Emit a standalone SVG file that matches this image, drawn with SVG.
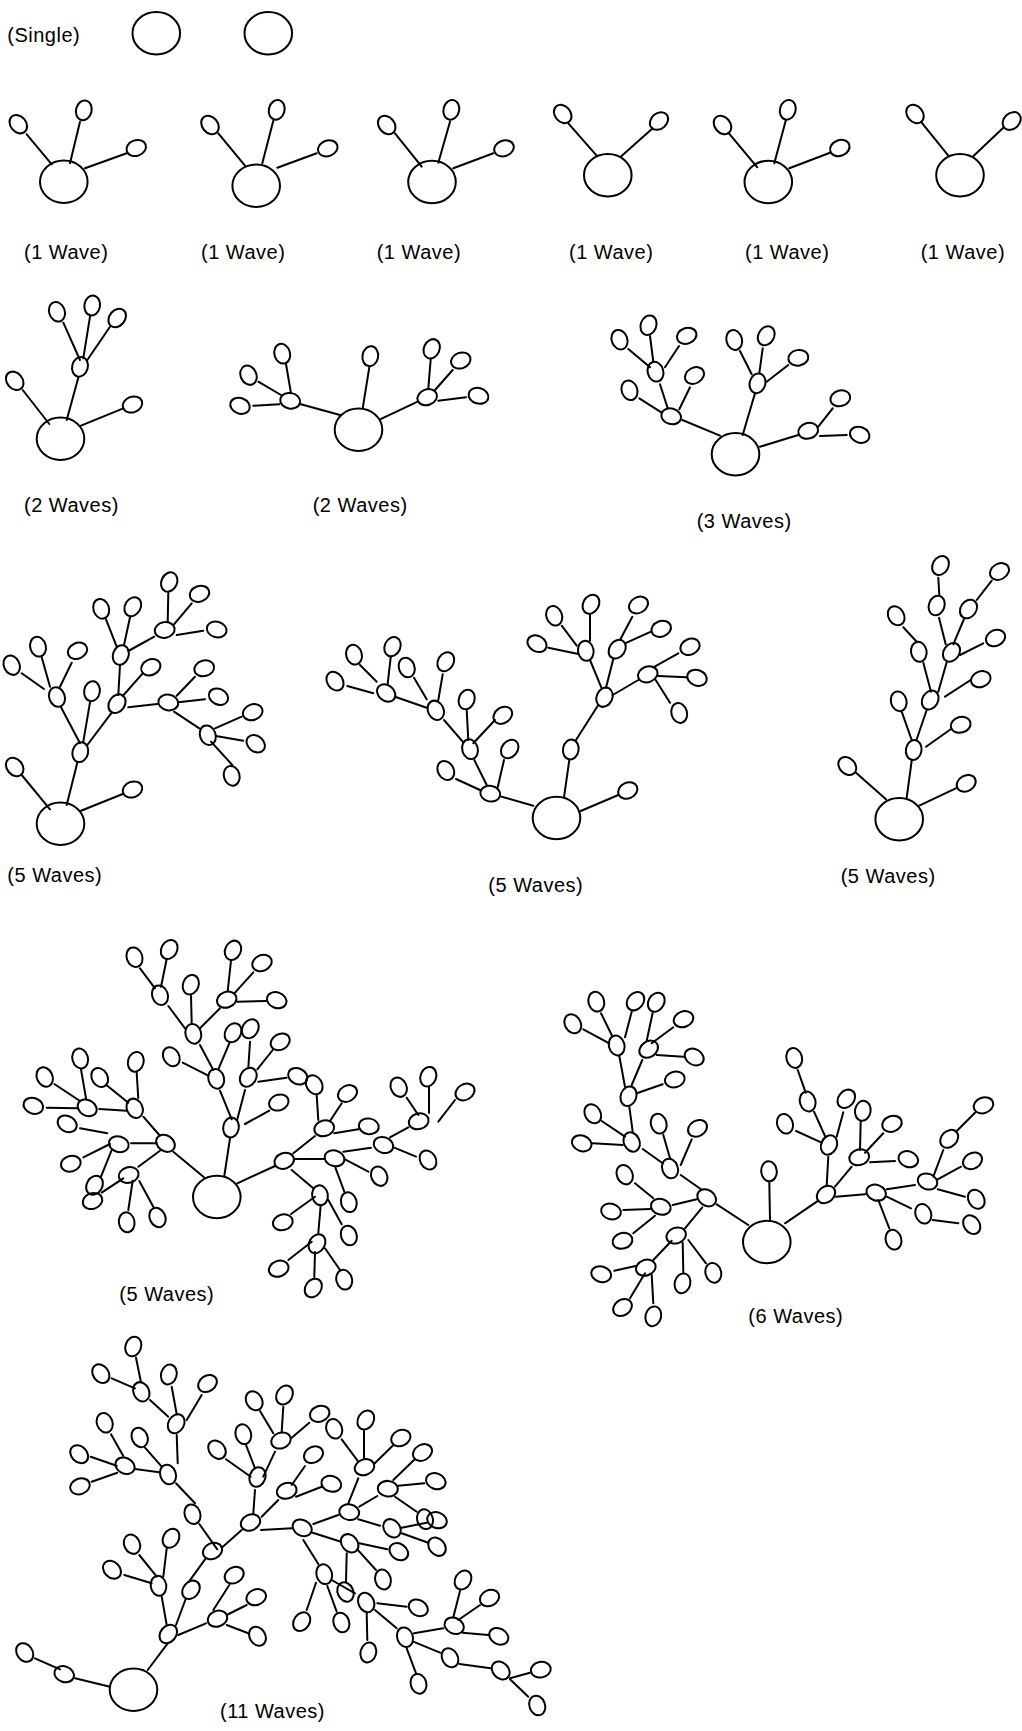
<svg xmlns="http://www.w3.org/2000/svg" xmlns:xlink="http://www.w3.org/1999/xlink" width="1022" height="1731" viewBox="0 0 1022 1731">
<style>
.e{fill:none;stroke:#000;stroke-width:2}
#connectors line{stroke:#000;stroke-width:2;stroke-linecap:round}
text{font-family:"Liberation Sans",Arial,Helvetica,sans-serif;font-size:20px;letter-spacing:0.5px;fill:#000}
</style>
<defs>
<ellipse id="s" class="e" rx="10" ry="7.8"/>
<ellipse id="r" class="e" rx="23.8" ry="21.2"/>
</defs>
<rect width="1022" height="1731" fill="#fff"/>
<g id="connectors">
<line x1="26.7" y1="134.3" x2="51.7" y2="164.3"/><line x1="80" y1="121.7" x2="70" y2="163.3"/><line x1="126.7" y1="153.3" x2="85" y2="168.3"/>
<line x1="218.3" y1="133.3" x2="245" y2="165.7"/><line x1="273.3" y1="120.7" x2="262.3" y2="163.3"/><line x1="316.7" y1="153.3" x2="277.3" y2="167.7"/>
<line x1="395" y1="133.3" x2="421.7" y2="166.7"/><line x1="450" y1="121.7" x2="438.3" y2="162.7"/><line x1="493.3" y1="153.3" x2="453.3" y2="168.3"/>
<line x1="568.3" y1="123.3" x2="596.7" y2="155.7"/><line x1="652.7" y1="128.3" x2="620.7" y2="156.7"/>
<line x1="728.3" y1="132.7" x2="757.3" y2="167.3"/><line x1="785.7" y1="120.7" x2="774.3" y2="163.3"/><line x1="830" y1="152.7" x2="789.3" y2="168.3"/>
<line x1="921.7" y1="122.7" x2="948.3" y2="155.7"/><line x1="1003.3" y1="127.7" x2="972.7" y2="156.7"/>
<line x1="78.3" y1="377.7" x2="66.7" y2="420"/><line x1="22.7" y1="390" x2="49.3" y2="424"/><line x1="123.3" y1="408.3" x2="81" y2="425.7"/>
<line x1="63.3" y1="322.7" x2="80" y2="360"/><line x1="90" y1="316.7" x2="83.3" y2="358.3"/><line x1="110" y1="326.7" x2="87.3" y2="360"/>
<line x1="369.3" y1="367.3" x2="362.7" y2="408.3"/><line x1="300" y1="404" x2="340" y2="415"/><line x1="380" y1="419.3" x2="417.7" y2="401.7"/>
<line x1="286" y1="364" x2="291" y2="393.3"/><line x1="258.3" y1="381.7" x2="281" y2="395"/><line x1="253.3" y1="405.7" x2="279.3" y2="404.3"/>
<line x1="430.7" y1="359.3" x2="428.3" y2="388.3"/><line x1="452.7" y1="370" x2="435" y2="390"/><line x1="466" y1="397.3" x2="438.3" y2="400.7"/>
<line x1="720" y1="435.7" x2="682.3" y2="420"/><line x1="742.7" y1="435" x2="755" y2="393.3"/><line x1="760" y1="446.7" x2="798.3" y2="435"/>
<line x1="667.7" y1="408.3" x2="660" y2="384.3"/><line x1="639.3" y1="398.3" x2="661.7" y2="412.7"/><line x1="679.3" y1="409.3" x2="690" y2="387.3"/>
<line x1="628.3" y1="349" x2="650" y2="367.3"/><line x1="650" y1="336" x2="653.3" y2="361.7"/><line x1="679" y1="346" x2="665" y2="367.3"/>
<line x1="740" y1="351" x2="751.7" y2="374.3"/><line x1="762.7" y1="348.3" x2="759.3" y2="373.3"/><line x1="788.3" y1="365" x2="766.7" y2="381.7"/>
<line x1="832.7" y1="408.3" x2="818.3" y2="426.7"/><line x1="846.7" y1="435" x2="820" y2="436"/>
<line x1="21.7" y1="775" x2="50" y2="809.3"/><line x1="77.3" y1="762.7" x2="66.7" y2="805"/><line x1="122.7" y1="794" x2="81" y2="810.7"/>
<line x1="80" y1="743.3" x2="61" y2="707.3"/><line x1="83.3" y1="741.7" x2="90" y2="702.3"/><line x1="87.3" y1="745" x2="111.7" y2="712.7"/>
<line x1="44" y1="689" x2="21.7" y2="673.3"/><line x1="50" y1="686.7" x2="41.7" y2="657.3"/><line x1="60" y1="686.7" x2="71.7" y2="662.7"/>
<line x1="118.3" y1="695" x2="120" y2="665"/><line x1="122.7" y1="696" x2="142.7" y2="673.3"/><line x1="128.3" y1="707.3" x2="157.3" y2="704"/>
<line x1="106" y1="619.3" x2="116.7" y2="646.7"/><line x1="130" y1="617.3" x2="124" y2="645"/><line x1="128.3" y1="651" x2="154.3" y2="636.7"/>
<line x1="168.3" y1="593.3" x2="167.7" y2="621.7"/><line x1="191.7" y1="603.3" x2="174" y2="624.3"/><line x1="203.3" y1="630.7" x2="176.7" y2="635"/>
<line x1="195" y1="676.7" x2="176.7" y2="695.7"/><line x1="205" y1="699.3" x2="178.3" y2="702.3"/><line x1="174" y1="711.7" x2="199.3" y2="728.3"/>
<line x1="241.7" y1="716.7" x2="215" y2="728.3"/><line x1="243.3" y1="740.7" x2="216" y2="736"/><line x1="232.3" y1="765" x2="211" y2="741.7"/>
<line x1="580.7" y1="811" x2="618.3" y2="795"/><line x1="564" y1="797.3" x2="569.3" y2="760"/><line x1="576" y1="740" x2="598.3" y2="705"/>
<line x1="601.7" y1="688.3" x2="590" y2="660"/><line x1="606" y1="687.7" x2="613.3" y2="659"/><line x1="612.7" y1="695" x2="638.3" y2="680"/>
<line x1="576.7" y1="645.7" x2="561.7" y2="625.7"/><line x1="590" y1="640.7" x2="590" y2="614.3"/><line x1="578.3" y1="654" x2="548.3" y2="647.7"/>
<line x1="620" y1="640" x2="632.3" y2="616.7"/><line x1="625" y1="643.3" x2="651" y2="631.7"/>
<line x1="653.3" y1="667.3" x2="678.3" y2="653.3"/><line x1="658.3" y1="676" x2="686.7" y2="677.3"/><line x1="655.7" y1="680" x2="670" y2="702.7"/>
<line x1="533.3" y1="805.7" x2="501.7" y2="796.7"/><line x1="480" y1="790" x2="456" y2="779"/><line x1="497.7" y1="787.3" x2="504" y2="760"/><line x1="486.7" y1="785" x2="474.3" y2="760"/>
<line x1="468.3" y1="740" x2="466.7" y2="710"/><line x1="473.3" y1="743.3" x2="495" y2="720"/><line x1="462.7" y1="741.7" x2="444" y2="720"/>
<line x1="426.7" y1="699.3" x2="414" y2="677.7"/><line x1="438.3" y1="700" x2="442.7" y2="674.3"/><line x1="426.7" y1="707.7" x2="395" y2="696.7"/>
<line x1="376.7" y1="681.7" x2="360" y2="665"/><line x1="387.7" y1="683.3" x2="390.7" y2="657.3"/><line x1="373.3" y1="693.3" x2="347.3" y2="686"/>
<line x1="856" y1="772.7" x2="886" y2="799.3"/><line x1="911.7" y1="760.7" x2="906.7" y2="797.7"/><line x1="957.3" y1="787.7" x2="919.3" y2="805.7"/>
<line x1="911.7" y1="740" x2="901.7" y2="711.7"/><line x1="950.7" y1="729.3" x2="926" y2="746.7"/><line x1="916.7" y1="739.3" x2="926.7" y2="710"/>
<line x1="970.7" y1="680" x2="945" y2="696.7"/><line x1="931" y1="691.7" x2="923.3" y2="662.7"/><line x1="938.3" y1="691.7" x2="946.7" y2="662.3"/>
<line x1="916.7" y1="641.7" x2="903.3" y2="627.3"/><line x1="945.7" y1="644.3" x2="939" y2="617.7"/><line x1="953.3" y1="644.3" x2="964" y2="619"/><line x1="960" y1="655" x2="983.3" y2="643.3"/>
<line x1="939.3" y1="595" x2="938.3" y2="577.7"/><line x1="976.7" y1="600" x2="991.7" y2="580.7"/>
<line x1="224.3" y1="1176" x2="230" y2="1138.3"/><line x1="245" y1="1124" x2="269.3" y2="1110.7"/><line x1="231.7" y1="1119.3" x2="220" y2="1090.7"/><line x1="237.3" y1="1119.3" x2="245" y2="1090"/>
<line x1="182.7" y1="1062.7" x2="208.3" y2="1075.7"/><line x1="200" y1="1045" x2="213.3" y2="1070"/><line x1="229.3" y1="1043.3" x2="218.3" y2="1069.3"/>
<line x1="250" y1="1041.7" x2="248.3" y2="1068.3"/><line x1="272.7" y1="1050" x2="257.3" y2="1069.3"/><line x1="286.7" y1="1077.7" x2="258.3" y2="1081.7"/>
<line x1="185" y1="1028.3" x2="168.3" y2="1006"/><line x1="191.7" y1="1024" x2="191" y2="996"/><line x1="200" y1="1028.3" x2="220" y2="1008.3"/>
<line x1="140" y1="968.3" x2="155" y2="988.3"/><line x1="166.7" y1="959" x2="161" y2="986.7"/>
<line x1="231" y1="960.7" x2="227.7" y2="991"/><line x1="253.3" y1="972.3" x2="235" y2="992.7"/><line x1="266" y1="1001" x2="237.3" y2="1001.7"/>
<line x1="204" y1="1177.3" x2="173.3" y2="1151.7"/><line x1="159.3" y1="1135" x2="143.3" y2="1116.7"/><line x1="156.7" y1="1143.3" x2="131" y2="1143.3"/><line x1="160" y1="1150.7" x2="138.3" y2="1166.7"/>
<line x1="136.7" y1="1072.7" x2="138.3" y2="1098.3"/><line x1="107.3" y1="1085.7" x2="128.3" y2="1102.7"/><line x1="99.3" y1="1109" x2="126.7" y2="1110.7"/>
<line x1="81" y1="1069.3" x2="86" y2="1098.3"/><line x1="54.3" y1="1084" x2="80" y2="1101"/><line x1="46.7" y1="1107.7" x2="78.3" y2="1108.3"/>
<line x1="80" y1="1128.3" x2="107.3" y2="1133.3"/><line x1="83.3" y1="1157.3" x2="110" y2="1144"/><line x1="101" y1="1176.7" x2="111.7" y2="1150"/>
<line x1="101.7" y1="1192.7" x2="123.3" y2="1178.3"/><line x1="132.7" y1="1180.7" x2="128.3" y2="1210"/><line x1="139.3" y1="1181" x2="153.3" y2="1206.7"/>
<line x1="237.3" y1="1183.3" x2="275" y2="1166"/><line x1="293.3" y1="1153.3" x2="315" y2="1136"/><line x1="295" y1="1159" x2="325" y2="1159"/><line x1="291.7" y1="1170" x2="313.3" y2="1188.3"/>
<line x1="318.3" y1="1120" x2="316.7" y2="1095"/><line x1="330" y1="1121" x2="341.7" y2="1103.3"/><line x1="334.3" y1="1133.3" x2="358.3" y2="1129.3"/>
<line x1="343.3" y1="1151.7" x2="371" y2="1147.7"/><line x1="345" y1="1159.3" x2="368.3" y2="1171.7"/><line x1="335" y1="1166.7" x2="344.3" y2="1191.7"/>
<line x1="390" y1="1137.3" x2="408.3" y2="1127.3"/><line x1="394.3" y1="1147.7" x2="416" y2="1156.7"/>
<line x1="406.7" y1="1097.7" x2="418.3" y2="1115"/><line x1="429" y1="1086.7" x2="429" y2="1113"/><line x1="455" y1="1100" x2="438.3" y2="1121.7"/>
<line x1="291" y1="1214" x2="315" y2="1196.7"/><line x1="328.3" y1="1200" x2="341.7" y2="1224.3"/><line x1="320.7" y1="1205" x2="318.3" y2="1233"/>
<line x1="288.3" y1="1260" x2="311.7" y2="1241.7"/><line x1="315" y1="1252" x2="314.3" y2="1277"/><line x1="325" y1="1248.3" x2="340" y2="1270"/>
<line x1="769.3" y1="1181.7" x2="770" y2="1220"/><line x1="748.3" y1="1225" x2="716.7" y2="1204.3"/>
<line x1="701" y1="1189.3" x2="680.7" y2="1175"/><line x1="696.7" y1="1199.3" x2="672.7" y2="1205"/><line x1="702.3" y1="1207.3" x2="685" y2="1228.3"/>
<line x1="663.3" y1="1135" x2="670" y2="1158.3"/><line x1="691.7" y1="1139.3" x2="680.7" y2="1165"/><line x1="642.7" y1="1149" x2="662.7" y2="1163.3"/>
<line x1="601.7" y1="1121" x2="625" y2="1136.7"/><line x1="592.7" y1="1143.3" x2="622.7" y2="1145"/><line x1="629.3" y1="1106.7" x2="632.7" y2="1131.7"/>
<line x1="636.7" y1="1093.3" x2="662.7" y2="1084.3"/><line x1="619.3" y1="1056" x2="625" y2="1086.7"/><line x1="642.3" y1="1060" x2="631.7" y2="1085"/>
<line x1="583.3" y1="1029.3" x2="609.3" y2="1043.3"/><line x1="601" y1="1013.3" x2="611.7" y2="1035"/><line x1="631.7" y1="1011.7" x2="625" y2="1037.3"/>
<line x1="652.7" y1="1012.7" x2="646.7" y2="1040.7"/><line x1="673.3" y1="1027.3" x2="651.7" y2="1043.3"/><line x1="683.3" y1="1056.7" x2="656.7" y2="1055"/>
<line x1="635" y1="1183.3" x2="653.3" y2="1198.3"/><line x1="623.3" y1="1210" x2="650" y2="1209"/><line x1="633.3" y1="1233.3" x2="655" y2="1215.7"/>
<line x1="671.7" y1="1240.7" x2="653.3" y2="1260"/><line x1="682.7" y1="1242.7" x2="683.3" y2="1272.7"/><line x1="688.3" y1="1240" x2="706" y2="1263.3"/>
<line x1="614.3" y1="1270.7" x2="636.7" y2="1265.7"/><line x1="630" y1="1298.3" x2="645" y2="1273.3"/><line x1="653.3" y1="1303.3" x2="651.7" y2="1275"/>
<line x1="785" y1="1223.3" x2="818.3" y2="1200.7"/><line x1="826.7" y1="1185" x2="828.3" y2="1156.7"/><line x1="835" y1="1186.7" x2="851.7" y2="1166.7"/><line x1="836" y1="1196.7" x2="865" y2="1194.3"/>
<line x1="796" y1="1131" x2="821.7" y2="1142.7"/><line x1="843.3" y1="1112.3" x2="836.7" y2="1136.7"/><line x1="814" y1="1111.7" x2="825" y2="1136"/><line x1="797.7" y1="1070" x2="805.7" y2="1092.7"/>
<line x1="860.7" y1="1121" x2="860" y2="1150"/><line x1="883.3" y1="1133.3" x2="865" y2="1152.7"/><line x1="895" y1="1161" x2="870" y2="1162.3"/>
<line x1="886.7" y1="1189.3" x2="915" y2="1185"/><line x1="886.7" y1="1196.7" x2="911" y2="1208.3"/><line x1="878.3" y1="1200" x2="889.3" y2="1228.3"/><line x1="932.7" y1="1220" x2="958.3" y2="1223.3"/>
<line x1="943.3" y1="1150" x2="933.3" y2="1176.7"/><line x1="961" y1="1166.7" x2="937.7" y2="1179.3"/><line x1="965" y1="1196.7" x2="937.7" y2="1189.3"/><line x1="975" y1="1112.7" x2="956" y2="1131.7"/>
<line x1="75" y1="1678.3" x2="110" y2="1686.7"/><line x1="35" y1="1658.3" x2="60" y2="1669.3"/><line x1="147.7" y1="1670" x2="167.7" y2="1643.3"/>
<line x1="166.7" y1="1625" x2="161.7" y2="1596.7"/><line x1="176" y1="1625" x2="185.7" y2="1599"/><line x1="178.3" y1="1635" x2="206" y2="1623.3"/><line x1="189" y1="1581.7" x2="205" y2="1559.3"/>
<line x1="139.3" y1="1555" x2="156.7" y2="1576.7"/><line x1="166.7" y1="1548.3" x2="163.3" y2="1576.7"/><line x1="124.3" y1="1575" x2="151.7" y2="1583.3"/>
<line x1="213.3" y1="1610" x2="229.3" y2="1585"/><line x1="226.7" y1="1615" x2="246.7" y2="1605"/><line x1="226.7" y1="1625" x2="248.3" y2="1633.3"/>
<line x1="217.3" y1="1549.3" x2="199.3" y2="1524"/><line x1="221.7" y1="1547.7" x2="241.7" y2="1530"/><line x1="195" y1="1503.3" x2="176" y2="1483.3"/>
<line x1="159.3" y1="1472.3" x2="135" y2="1469"/><line x1="145" y1="1447.7" x2="161.7" y2="1466.7"/><line x1="176.7" y1="1435" x2="177.7" y2="1463.3"/>
<line x1="111" y1="1434.3" x2="123.3" y2="1456"/><line x1="90.7" y1="1456.7" x2="116.7" y2="1465.7"/><line x1="91.7" y1="1481.7" x2="117.3" y2="1472.7"/>
<line x1="171.7" y1="1386.7" x2="176.7" y2="1414.3"/><line x1="201.7" y1="1395" x2="186.7" y2="1420"/><line x1="150" y1="1400" x2="168.3" y2="1416.7"/>
<line x1="136" y1="1357.7" x2="141" y2="1382.3"/><line x1="111.7" y1="1378.3" x2="135" y2="1388.3"/>
<line x1="255" y1="1490" x2="253.3" y2="1513.3"/><line x1="261.7" y1="1516.7" x2="278.3" y2="1500"/><line x1="261" y1="1530" x2="291.7" y2="1528.3"/>
<line x1="226" y1="1459.3" x2="250.7" y2="1476.7"/><line x1="246" y1="1445" x2="255" y2="1468.3"/><line x1="275" y1="1451.7" x2="263.3" y2="1476.7"/>
<line x1="260" y1="1411" x2="273.3" y2="1433.3"/><line x1="283.3" y1="1406.7" x2="281.7" y2="1431.7"/><line x1="309.3" y1="1422.7" x2="291.7" y2="1437.7"/>
<line x1="305" y1="1466" x2="291.7" y2="1485"/><line x1="321.7" y1="1486.7" x2="296" y2="1496.7"/>
<line x1="313.3" y1="1524" x2="338.3" y2="1515"/><line x1="312.7" y1="1532.7" x2="341" y2="1541.7"/><line x1="303.3" y1="1540" x2="318.3" y2="1564"/>
<line x1="358.3" y1="1478.3" x2="348.3" y2="1503.3"/><line x1="359.3" y1="1506.7" x2="377.3" y2="1496"/><line x1="358.3" y1="1519.3" x2="380" y2="1525.7"/>
<line x1="341.7" y1="1439.3" x2="358.3" y2="1461.7"/><line x1="364" y1="1431" x2="364" y2="1458.3"/><line x1="392.7" y1="1445.7" x2="374" y2="1464"/>
<line x1="414" y1="1460" x2="393.3" y2="1480"/><line x1="424.3" y1="1483.3" x2="398.3" y2="1485.7"/><line x1="395" y1="1496.7" x2="416.7" y2="1511.7"/>
<line x1="401.7" y1="1527.7" x2="426.7" y2="1522.7"/><line x1="401.7" y1="1533.3" x2="428.3" y2="1542.7"/>
<line x1="359.3" y1="1543.3" x2="387.3" y2="1549.3"/><line x1="357.3" y1="1549.3" x2="376" y2="1570"/><line x1="346.7" y1="1553.3" x2="346" y2="1581.7"/>
<line x1="316" y1="1582.7" x2="306.7" y2="1610"/><line x1="327.3" y1="1586" x2="336.7" y2="1611.7"/><line x1="331.7" y1="1580" x2="355" y2="1593.3"/>
<line x1="377.3" y1="1603.3" x2="406.7" y2="1606.7"/><line x1="366.7" y1="1613.3" x2="367.3" y2="1640"/><line x1="375" y1="1610" x2="396.7" y2="1628.3"/>
<line x1="406.7" y1="1648.3" x2="416" y2="1673.3"/><line x1="414" y1="1633.3" x2="443.3" y2="1628.3"/><line x1="413.3" y1="1641.7" x2="440" y2="1652.7"/>
<line x1="460" y1="1591" x2="453.3" y2="1617.3"/><line x1="480" y1="1605" x2="458.3" y2="1620"/><line x1="488.3" y1="1635" x2="462.7" y2="1632.7"/>
<line x1="459.3" y1="1664" x2="490.7" y2="1668.3"/><line x1="510" y1="1678.3" x2="530" y2="1672.7"/><line x1="510" y1="1679.3" x2="528.3" y2="1696.7"/>
</g>
<g id="single">
<g id="sg-1" transform="translate(156.3 33.3)"><use href="#r"/></g>
<g id="sg-2" transform="translate(268.3 33.3)"><use href="#r"/></g>
</g>
<g id="w1a">
<g id="w1a-root" transform="translate(63.8 181.7)"><use href="#r"/></g>
<g id="w1a-1" transform="translate(18.3 124.2) rotate(50)"><use href="#s"/></g>
<g id="w1a-2" transform="translate(83.8 110.3) rotate(-76)"><use href="#s"/></g>
<g id="w1a-3" transform="translate(136.2 148) rotate(-20)"><use href="#s"/></g>
</g>
<g id="w1b">
<g id="w1b-root" transform="translate(256.2 185.8)"><use href="#r"/></g>
<g id="w1b-1" transform="translate(210 125) rotate(50)"><use href="#s"/></g>
<g id="w1b-2" transform="translate(276.7 109.8) rotate(-76)"><use href="#s"/></g>
<g id="w1b-3" transform="translate(327.8 148.3) rotate(-20)"><use href="#s"/></g>
</g>
<g id="w1c">
<g id="w1c-root" transform="translate(432 182)"><use href="#r"/></g>
<g id="w1c-1" transform="translate(386.7 125) rotate(50)"><use href="#s"/></g>
<g id="w1c-2" transform="translate(451.3 109.8) rotate(-76)"><use href="#s"/></g>
<g id="w1c-3" transform="translate(504 148.3) rotate(-20)"><use href="#s"/></g>
</g>
<g id="w1d">
<g id="w1d-root" transform="translate(607.8 175.3)"><use href="#r"/></g>
<g id="w1d-1" transform="translate(562.7 114) rotate(49)"><use href="#s"/></g>
<g id="w1d-2" transform="translate(659 121) rotate(-41)"><use href="#s"/></g>
</g>
<g id="w1e">
<g id="w1e-root" transform="translate(768.3 182)"><use href="#r"/></g>
<g id="w1e-1" transform="translate(722.5 125) rotate(50)"><use href="#s"/></g>
<g id="w1e-2" transform="translate(787.8 109.8) rotate(-75)"><use href="#s"/></g>
<g id="w1e-3" transform="translate(839.8 148) rotate(-21)"><use href="#s"/></g>
</g>
<g id="w1f">
<g id="w1f-root" transform="translate(960 175.3)"><use href="#r"/></g>
<g id="w1f-1" transform="translate(915 114) rotate(51)"><use href="#s"/></g>
<g id="w1f-2" transform="translate(1011.7 121) rotate(-43)"><use href="#s"/></g>
</g>
<g id="w2a">
<g id="w2a-root" transform="translate(60.5 438.8)"><use href="#r"/></g>
<g id="w2a-m" transform="translate(80 366.8) rotate(-75)"><use href="#s"/></g>
<g id="w2a-1" transform="translate(57 311.8) rotate(70)"><use href="#s"/></g>
<g id="w2a-2" transform="translate(92.2 305.5) rotate(-80)"><use href="#s"/></g>
<g id="w2a-3" transform="translate(117.2 318) rotate(-50)"><use href="#s"/></g>
<g id="w2a-4" transform="translate(14.7 380.8) rotate(50)"><use href="#s"/></g>
<g id="w2a-5" transform="translate(132.5 404.5) rotate(-20)"><use href="#s"/></g>
</g>
<g id="w2b">
<g id="w2b-root" transform="translate(358.5 429.7)"><use href="#r"/></g>
<g id="w2b-lm" transform="translate(290.2 400.8) rotate(10)"><use href="#s"/></g>
<g id="w2b-rm" transform="translate(427.2 397.2) rotate(-20)"><use href="#s"/></g>
<g id="w2b-t" transform="translate(370.3 356.2) rotate(-80)"><use href="#s"/></g>
<g id="w2b-1" transform="translate(282.2 353.7) rotate(75)"><use href="#s"/></g>
<g id="w2b-2" transform="translate(248.5 375.2) rotate(65)"><use href="#s"/></g>
<g id="w2b-3" transform="translate(240 405.8) rotate(20)"><use href="#s"/></g>
<g id="w2b-4" transform="translate(431.7 348.8) rotate(-65)"><use href="#s"/></g>
<g id="w2b-5" transform="translate(460.8 360.5) rotate(-20)"><use href="#s"/></g>
<g id="w2b-6" transform="translate(478.5 395.8) rotate(15)"><use href="#s"/></g>
</g>
<g id="w3">
<g id="w3-root" transform="translate(735.5 454.2)"><use href="#r"/></g>
<g id="w3-l1" transform="translate(671.2 416.3) rotate(15)"><use href="#s"/></g>
<g id="w3-l2" transform="translate(655.5 371.7) rotate(75)"><use href="#s"/></g>
<g id="w3-1" transform="translate(629.5 390.3) rotate(70)"><use href="#s"/></g>
<g id="w3-2" transform="translate(694.5 375.5) rotate(-30)"><use href="#s"/></g>
<g id="w3-3" transform="translate(619.5 339.7) rotate(70)"><use href="#s"/></g>
<g id="w3-4" transform="translate(648.5 325.2) rotate(-70)"><use href="#s"/></g>
<g id="w3-5" transform="translate(686.7 335.8) rotate(-20)"><use href="#s"/></g>
<g id="w3-t1" transform="translate(757.5 383.3) rotate(-75)"><use href="#s"/></g>
<g id="w3-6" transform="translate(734.2 340) rotate(75)"><use href="#s"/></g>
<g id="w3-7" transform="translate(766.2 335.8) rotate(-60)"><use href="#s"/></g>
<g id="w3-8" transform="translate(798.3 357.8) rotate(-10)"><use href="#s"/></g>
<g id="w3-r1" transform="translate(808.2 430.8) rotate(-15)"><use href="#s"/></g>
<g id="w3-9" transform="translate(840.3 398.3) rotate(-15)"><use href="#s"/></g>
<g id="w3-10" transform="translate(859.7 434.8) rotate(20)"><use href="#s"/></g>
</g>
<g id="w5a">
<g id="w5a-root" transform="translate(60.5 823.8)"><use href="#r"/></g>
<g id="w5a-1" transform="translate(14.7 767) rotate(50)"><use href="#s"/></g>
<g id="w5a-2" transform="translate(132.5 789.5) rotate(-20)"><use href="#s"/></g>
<g id="w5a-A" transform="translate(80.3 752.2) rotate(-75)"><use href="#s"/></g>
<g id="w5a-B" transform="translate(57 697) rotate(70)"><use href="#s"/></g>
<g id="w5a-C" transform="translate(92 691.2) rotate(-80)"><use href="#s"/></g>
<g id="w5a-D" transform="translate(117 703.7) rotate(-55)"><use href="#s"/></g>
<g id="w5a-3" transform="translate(11.7 665.2) rotate(65)"><use href="#s"/></g>
<g id="w5a-4" transform="translate(38 646.7) rotate(75)"><use href="#s"/></g>
<g id="w5a-5" transform="translate(77.5 650.8) rotate(-25)"><use href="#s"/></g>
<g id="w5a-E" transform="translate(120.8 655) rotate(-70)"><use href="#s"/></g>
<g id="w5a-6" transform="translate(150.8 667.2) rotate(-25)"><use href="#s"/></g>
<g id="w5a-F" transform="translate(168.3 702.5) rotate(10)"><use href="#s"/></g>
<g id="w5a-7" transform="translate(101.2 608.8) rotate(72)"><use href="#s"/></g>
<g id="w5a-8" transform="translate(132.8 606.7) rotate(-60)"><use href="#s"/></g>
<g id="w5a-G" transform="translate(164.7 630) rotate(-10)"><use href="#s"/></g>
<g id="w5a-9" transform="translate(169.2 582) rotate(-65)"><use href="#s"/></g>
<g id="w5a-10" transform="translate(199.5 593.8) rotate(-20)"><use href="#s"/></g>
<g id="w5a-11" transform="translate(216.7 629.5) rotate(15)"><use href="#s"/></g>
<g id="w5a-12" transform="translate(204.2 668.3) rotate(-15)"><use href="#s"/></g>
<g id="w5a-13" transform="translate(218.5 696.7) rotate(25)"><use href="#s"/></g>
<g id="w5a-H" transform="translate(207.8 735.2) rotate(70)"><use href="#s"/></g>
<g id="w5a-14" transform="translate(252.7 712.2) rotate(-20)"><use href="#s"/></g>
<g id="w5a-15" transform="translate(255.7 743.7) rotate(40)"><use href="#s"/></g>
<g id="w5a-16" transform="translate(231.7 775.8) rotate(75)"><use href="#s"/></g>
</g>
<g id="w5b">
<g id="w5b-root" transform="translate(556.5 818)"><use href="#r"/></g>
<g id="w5b-1" transform="translate(627.8 790.5) rotate(-25)"><use href="#s"/></g>
<g id="w5b-M1" transform="translate(570.8 749.5) rotate(-80)"><use href="#s"/></g>
<g id="w5b-M2" transform="translate(604.5 697.2) rotate(-65)"><use href="#s"/></g>
<g id="w5b-M3" transform="translate(585.8 650.8) rotate(80)"><use href="#s"/></g>
<g id="w5b-M4" transform="translate(617.2 649.2) rotate(-55)"><use href="#s"/></g>
<g id="w5b-M5" transform="translate(647.8 674.3) rotate(-20)"><use href="#s"/></g>
<g id="w5b-2" transform="translate(554.2 615.8) rotate(70)"><use href="#s"/></g>
<g id="w5b-3" transform="translate(591 604.2) rotate(-60)"><use href="#s"/></g>
<g id="w5b-4" transform="translate(537 643.7) rotate(30)"><use href="#s"/></g>
<g id="w5b-5" transform="translate(638.5 605) rotate(-30)"><use href="#s"/></g>
<g id="w5b-6" transform="translate(661.2 628.8) rotate(-20)"><use href="#s"/></g>
<g id="w5b-7" transform="translate(690 646.8) rotate(-25)"><use href="#s"/></g>
<g id="w5b-8" transform="translate(697 677.8) rotate(20)"><use href="#s"/></g>
<g id="w5b-9" transform="translate(679.2 713) rotate(75)"><use href="#s"/></g>
<g id="w5b-N1" transform="translate(490.3 793.7) rotate(10)"><use href="#s"/></g>
<g id="w5b-10" transform="translate(445.8 770.5) rotate(60)"><use href="#s"/></g>
<g id="w5b-11" transform="translate(509.7 749) rotate(-50)"><use href="#s"/></g>
<g id="w5b-N2" transform="translate(470 749.2) rotate(75)"><use href="#s"/></g>
<g id="w5b-12" transform="translate(466.7 699.5) rotate(-70)"><use href="#s"/></g>
<g id="w5b-13" transform="translate(502.8 715.3) rotate(-35)"><use href="#s"/></g>
<g id="w5b-N3" transform="translate(435.8 710.3) rotate(65)"><use href="#s"/></g>
<g id="w5b-14" transform="translate(406.7 667.5) rotate(70)"><use href="#s"/></g>
<g id="w5b-15" transform="translate(445.8 661.7) rotate(-60)"><use href="#s"/></g>
<g id="w5b-N4" transform="translate(386.2 693) rotate(40)"><use href="#s"/></g>
<g id="w5b-16" transform="translate(354 654.7) rotate(75)"><use href="#s"/></g>
<g id="w5b-17" transform="translate(392.5 646.7) rotate(-65)"><use href="#s"/></g>
<g id="w5b-18" transform="translate(335 681.2) rotate(55)"><use href="#s"/></g>
</g>
<g id="w5c">
<g id="w5c-root" transform="translate(899.2 819.3)"><use href="#r"/></g>
<g id="w5c-1" transform="translate(847.3 766) rotate(45)"><use href="#s"/></g>
<g id="w5c-2" transform="translate(966.2 783.3) rotate(-30)"><use href="#s"/></g>
<g id="w5c-P1" transform="translate(913.7 750) rotate(-80)"><use href="#s"/></g>
<g id="w5c-3" transform="translate(898.7 701.3) rotate(75)"><use href="#s"/></g>
<g id="w5c-4" transform="translate(960.7 724.8) rotate(-15)"><use href="#s"/></g>
<g id="w5c-P2" transform="translate(930.2 700) rotate(-60)"><use href="#s"/></g>
<g id="w5c-5" transform="translate(980.8 679.2) rotate(-20)"><use href="#s"/></g>
<g id="w5c-P3" transform="translate(918.8 651.8) rotate(80)"><use href="#s"/></g>
<g id="w5c-P4" transform="translate(951.5 652.3) rotate(-55)"><use href="#s"/></g>
<g id="w5c-6" transform="translate(896.2 615.8) rotate(60)"><use href="#s"/></g>
<g id="w5c-7" transform="translate(995.5 638) rotate(-25)"><use href="#s"/></g>
<g id="w5c-P5" transform="translate(936.7 605.5) rotate(-70)"><use href="#s"/></g>
<g id="w5c-P6" transform="translate(968.5 609) rotate(-55)"><use href="#s"/></g>
<g id="w5c-8" transform="translate(940.5 565.5) rotate(-60)"><use href="#s"/></g>
<g id="w5c-9" transform="translate(999.5 571.5) rotate(-30)"><use href="#s"/></g>
</g>
<g id="w5d">
<g id="w5d-root" transform="translate(216.8 1197)"><use href="#r"/></g>
<g id="w5d-U1" transform="translate(231 1127.5) rotate(-80)"><use href="#s"/></g>
<g id="w5d-1" transform="translate(278.8 1102.5) rotate(-20)"><use href="#s"/></g>
<g id="w5d-U2" transform="translate(216.2 1078.8) rotate(75)"><use href="#s"/></g>
<g id="w5d-U3" transform="translate(248.3 1077.2) rotate(-60)"><use href="#s"/></g>
<g id="w5d-2" transform="translate(171.3 1056.7) rotate(60)"><use href="#s"/></g>
<g id="w5d-U4" transform="translate(193.3 1033.8) rotate(75)"><use href="#s"/></g>
<g id="w5d-3" transform="translate(233 1032.8) rotate(-60)"><use href="#s"/></g>
<g id="w5d-4" transform="translate(250.3 1028.7) rotate(-60)"><use href="#s"/></g>
<g id="w5d-5" transform="translate(280.2 1041.8) rotate(-30)"><use href="#s"/></g>
<g id="w5d-6" transform="translate(297.8 1076.3) rotate(25)"><use href="#s"/></g>
<g id="w5d-U5" transform="translate(160 995.2) rotate(70)"><use href="#s"/></g>
<g id="w5d-7" transform="translate(190.8 984.7) rotate(-70)"><use href="#s"/></g>
<g id="w5d-U6" transform="translate(226.7 999.7) rotate(-20)"><use href="#s"/></g>
<g id="w5d-8" transform="translate(134.5 957.2) rotate(70)"><use href="#s"/></g>
<g id="w5d-9" transform="translate(169.2 949.5) rotate(-60)"><use href="#s"/></g>
<g id="w5d-10" transform="translate(233 950.3) rotate(-65)"><use href="#s"/></g>
<g id="w5d-11" transform="translate(262 963) rotate(-25)"><use href="#s"/></g>
<g id="w5d-12" transform="translate(276.7 1000.2) rotate(20)"><use href="#s"/></g>
<g id="w5d-L1" transform="translate(165.5 1143.3) rotate(35)"><use href="#s"/></g>
<g id="w5d-L2" transform="translate(134.7 1108.3) rotate(65)"><use href="#s"/></g>
<g id="w5d-L3" transform="translate(118.8 1144.2) rotate(15)"><use href="#s"/></g>
<g id="w5d-L4" transform="translate(128.7 1175) rotate(-15)"><use href="#s"/></g>
<g id="w5d-13" transform="translate(135.8 1061.8) rotate(-75)"><use href="#s"/></g>
<g id="w5d-14" transform="translate(99.7 1077.5) rotate(60)"><use href="#s"/></g>
<g id="w5d-L5" transform="translate(87.2 1107.8) rotate(30)"><use href="#s"/></g>
<g id="w5d-15" transform="translate(80.2 1058.5) rotate(75)"><use href="#s"/></g>
<g id="w5d-16" transform="translate(44.7 1077) rotate(65)"><use href="#s"/></g>
<g id="w5d-17" transform="translate(33.3 1105.8) rotate(20)"><use href="#s"/></g>
<g id="w5d-18" transform="translate(67.2 1123.8) rotate(30)"><use href="#s"/></g>
<g id="w5d-19" transform="translate(70.8 1163.7) rotate(-15)"><use href="#s"/></g>
<g id="w5d-20" transform="translate(94.5 1185.3) rotate(-60)"><use href="#s"/></g>
<g id="w5d-21" transform="translate(92.5 1201) rotate(-20)"><use href="#s"/></g>
<g id="w5d-22" transform="translate(126.7 1222.3) rotate(80)"><use href="#s"/></g>
<g id="w5d-23" transform="translate(157.5 1217.5) rotate(65)"><use href="#s"/></g>
<g id="w5d-R1" transform="translate(284.2 1160.8) rotate(-20)"><use href="#s"/></g>
<g id="w5d-R2" transform="translate(324.2 1128.3) rotate(-15)"><use href="#s"/></g>
<g id="w5d-R3" transform="translate(334.5 1158.3) rotate(15)"><use href="#s"/></g>
<g id="w5d-R4" transform="translate(320 1195.3) rotate(80)"><use href="#s"/></g>
<g id="w5d-24" transform="translate(314.2 1084.7) rotate(60)"><use href="#s"/></g>
<g id="w5d-25" transform="translate(347.5 1093.5) rotate(-30)"><use href="#s"/></g>
<g id="w5d-26" transform="translate(368.8 1126.3) rotate(10)"><use href="#s"/></g>
<g id="w5d-R5" transform="translate(383.5 1145) rotate(20)"><use href="#s"/></g>
<g id="w5d-27" transform="translate(379.2 1176.2) rotate(65)"><use href="#s"/></g>
<g id="w5d-28" transform="translate(348.8 1202.2) rotate(75)"><use href="#s"/></g>
<g id="w5d-R6" transform="translate(418.7 1121.3) rotate(-15)"><use href="#s"/></g>
<g id="w5d-29" transform="translate(428 1160) rotate(60)"><use href="#s"/></g>
<g id="w5d-30" transform="translate(398.7 1087.2) rotate(65)"><use href="#s"/></g>
<g id="w5d-31" transform="translate(428.3 1076.7) rotate(-70)"><use href="#s"/></g>
<g id="w5d-32" transform="translate(465 1092) rotate(-30)"><use href="#s"/></g>
<g id="w5d-33" transform="translate(282.8 1222.3) rotate(-15)"><use href="#s"/></g>
<g id="w5d-34" transform="translate(348.8 1235.5) rotate(70)"><use href="#s"/></g>
<g id="w5d-R7" transform="translate(317 1243.7) rotate(-60)"><use href="#s"/></g>
<g id="w5d-35" transform="translate(278.7 1268.7) rotate(-20)"><use href="#s"/></g>
<g id="w5d-36" transform="translate(313.3 1288) rotate(-55)"><use href="#s"/></g>
<g id="w5d-37" transform="translate(344.2 1279.7) rotate(75)"><use href="#s"/></g>
</g>
<g id="w6">
<g id="w6-root" transform="translate(766.8 1242)"><use href="#r"/></g>
<g id="w6-1" transform="translate(769 1171.3) rotate(85)"><use href="#s"/></g>
<g id="w6-A1" transform="translate(706.7 1197.8) rotate(35)"><use href="#s"/></g>
<g id="w6-A2" transform="translate(670 1168.5) rotate(70)"><use href="#s"/></g>
<g id="w6-A3" transform="translate(660.8 1206.8) rotate(15)"><use href="#s"/></g>
<g id="w6-A4" transform="translate(676.2 1235.5) rotate(-20)"><use href="#s"/></g>
<g id="w6-2" transform="translate(658.7 1123.7) rotate(75)"><use href="#s"/></g>
<g id="w6-3" transform="translate(697.5 1128.3) rotate(-30)"><use href="#s"/></g>
<g id="w6-A5" transform="translate(631.7 1142) rotate(65)"><use href="#s"/></g>
<g id="w6-4" transform="translate(592.8 1113.8) rotate(60)"><use href="#s"/></g>
<g id="w6-5" transform="translate(581.7 1143.3) rotate(20)"><use href="#s"/></g>
<g id="w6-A6" transform="translate(628.5 1096.2) rotate(-70)"><use href="#s"/></g>
<g id="w6-6" transform="translate(674.8 1079.5) rotate(-15)"><use href="#s"/></g>
<g id="w6-A7" transform="translate(616.7 1045.5) rotate(75)"><use href="#s"/></g>
<g id="w6-A8" transform="translate(648.7 1049.2) rotate(-35)"><use href="#s"/></g>
<g id="w6-7" transform="translate(572.8 1023.8) rotate(60)"><use href="#s"/></g>
<g id="w6-8" transform="translate(596.3 1001.7) rotate(75)"><use href="#s"/></g>
<g id="w6-9" transform="translate(635.5 1001.2) rotate(-50)"><use href="#s"/></g>
<g id="w6-10" transform="translate(656.3 1002.2) rotate(-60)"><use href="#s"/></g>
<g id="w6-11" transform="translate(683.5 1019.2) rotate(-20)"><use href="#s"/></g>
<g id="w6-12" transform="translate(694.2 1057) rotate(30)"><use href="#s"/></g>
<g id="w6-13" transform="translate(624.7 1174.7) rotate(65)"><use href="#s"/></g>
<g id="w6-14" transform="translate(611 1211.5) rotate(15)"><use href="#s"/></g>
<g id="w6-15" transform="translate(622.5 1240.8) rotate(-15)"><use href="#s"/></g>
<g id="w6-A9" transform="translate(645.8 1267.7) rotate(-20)"><use href="#s"/></g>
<g id="w6-16" transform="translate(682.5 1283.3) rotate(-75)"><use href="#s"/></g>
<g id="w6-17" transform="translate(713.3 1272.8) rotate(75)"><use href="#s"/></g>
<g id="w6-18" transform="translate(601.2 1274.2) rotate(15)"><use href="#s"/></g>
<g id="w6-19" transform="translate(622.5 1307.5) rotate(-35)"><use href="#s"/></g>
<g id="w6-20" transform="translate(653.3 1316.3) rotate(-75)"><use href="#s"/></g>
<g id="w6-B1" transform="translate(826 1194.5) rotate(-40)"><use href="#s"/></g>
<g id="w6-B2" transform="translate(829 1145) rotate(-65)"><use href="#s"/></g>
<g id="w6-B3" transform="translate(859.2 1157.3) rotate(-15)"><use href="#s"/></g>
<g id="w6-B4" transform="translate(876.2 1192.7) rotate(20)"><use href="#s"/></g>
<g id="w6-21" transform="translate(785 1123.8) rotate(70)"><use href="#s"/></g>
<g id="w6-22" transform="translate(846.3 1098.8) rotate(-50)"><use href="#s"/></g>
<g id="w6-B5" transform="translate(807.7 1101.5) rotate(75)"><use href="#s"/></g>
<g id="w6-23" transform="translate(794.2 1058) rotate(75)"><use href="#s"/></g>
<g id="w6-24" transform="translate(862.8 1110.8) rotate(-80)"><use href="#s"/></g>
<g id="w6-25" transform="translate(892 1123.8) rotate(-20)"><use href="#s"/></g>
<g id="w6-26" transform="translate(908.3 1159.2) rotate(20)"><use href="#s"/></g>
<g id="w6-B6" transform="translate(927.5 1181.5) rotate(20)"><use href="#s"/></g>
<g id="w6-S1" transform="translate(923.3 1213.8) rotate(70)"><use href="#s"/></g>
<g id="w6-27" transform="translate(893.5 1239.7) rotate(75)"><use href="#s"/></g>
<g id="w6-28" transform="translate(971.7 1224.7) rotate(55)"><use href="#s"/></g>
<g id="w6-B7" transform="translate(949.2 1138.8) rotate(-45)"><use href="#s"/></g>
<g id="w6-29" transform="translate(972.5 1160.8) rotate(-30)"><use href="#s"/></g>
<g id="w6-30" transform="translate(976.3 1199.3) rotate(60)"><use href="#s"/></g>
<g id="w6-31" transform="translate(983.5 1105.3) rotate(-20)"><use href="#s"/></g>
</g>
<g id="w11">
<g id="w11-root" transform="translate(133.5 1689.7)"><use href="#r"/></g>
<g id="w11-W1" transform="translate(64.2 1674.2) rotate(20)"><use href="#s"/></g>
<g id="w11-1" transform="translate(24.7 1652.5) rotate(55)"><use href="#s"/></g>
<g id="w11-X1" transform="translate(168.3 1634) rotate(-50)"><use href="#s"/></g>
<g id="w11-X2" transform="translate(158.5 1585.8) rotate(80)"><use href="#s"/></g>
<g id="w11-X3" transform="translate(191 1589.8) rotate(-50)"><use href="#s"/></g>
<g id="w11-X4" transform="translate(217.5 1618.7) rotate(-20)"><use href="#s"/></g>
<g id="w11-X5" transform="translate(212.5 1551) rotate(-25)"><use href="#s"/></g>
<g id="w11-2" transform="translate(132 1544.2) rotate(65)"><use href="#s"/></g>
<g id="w11-3" transform="translate(171 1538.3) rotate(-60)"><use href="#s"/></g>
<g id="w11-4" transform="translate(112 1569.7) rotate(45)"><use href="#s"/></g>
<g id="w11-5" transform="translate(234.2 1575.2) rotate(-30)"><use href="#s"/></g>
<g id="w11-6" transform="translate(256.2 1597.2) rotate(-20)"><use href="#s"/></g>
<g id="w11-7" transform="translate(257.5 1636.3) rotate(60)"><use href="#s"/></g>
<g id="w11-X6" transform="translate(192.5 1514.2) rotate(70)"><use href="#s"/></g>
<g id="w11-X7" transform="translate(168 1474.5) rotate(70)"><use href="#s"/></g>
<g id="w11-X8" transform="translate(125 1465.8) rotate(25)"><use href="#s"/></g>
<g id="w11-8" transform="translate(139.7 1437.5) rotate(65)"><use href="#s"/></g>
<g id="w11-X9" transform="translate(176.2 1423.7) rotate(-60)"><use href="#s"/></g>
<g id="w11-9" transform="translate(104.7 1422.8) rotate(70)"><use href="#s"/></g>
<g id="w11-10" transform="translate(79.2 1454.2) rotate(45)"><use href="#s"/></g>
<g id="w11-11" transform="translate(80 1486.3) rotate(-20)"><use href="#s"/></g>
<g id="w11-12" transform="translate(168.8 1374.5) rotate(-75)"><use href="#s"/></g>
<g id="w11-13" transform="translate(207.5 1383.5) rotate(-35)"><use href="#s"/></g>
<g id="w11-X10" transform="translate(141.3 1391.8) rotate(65)"><use href="#s"/></g>
<g id="w11-14" transform="translate(133.3 1346.5) rotate(-70)"><use href="#s"/></g>
<g id="w11-15" transform="translate(100.8 1373.7) rotate(55)"><use href="#s"/></g>
<g id="w11-Y1" transform="translate(250.5 1522.5) rotate(-25)"><use href="#s"/></g>
<g id="w11-Y2" transform="translate(257.5 1477) rotate(-70)"><use href="#s"/></g>
<g id="w11-16" transform="translate(217 1449.7) rotate(50)"><use href="#s"/></g>
<g id="w11-17" transform="translate(243.3 1434.2) rotate(75)"><use href="#s"/></g>
<g id="w11-Y3" transform="translate(281 1440.5) rotate(-20)"><use href="#s"/></g>
<g id="w11-18" transform="translate(254.2 1400.8) rotate(60)"><use href="#s"/></g>
<g id="w11-19" transform="translate(284.5 1395) rotate(-60)"><use href="#s"/></g>
<g id="w11-20" transform="translate(319.7 1413.8) rotate(-20)"><use href="#s"/></g>
<g id="w11-Y4" transform="translate(286.7 1490.8) rotate(-15)"><use href="#s"/></g>
<g id="w11-21" transform="translate(313.5 1454.7) rotate(-30)"><use href="#s"/></g>
<g id="w11-22" transform="translate(331.3 1483.8) rotate(15)"><use href="#s"/></g>
<g id="w11-Z1" transform="translate(302.2 1527.8) rotate(30)"><use href="#s"/></g>
<g id="w11-Z2" transform="translate(349.2 1512.2) rotate(10)"><use href="#s"/></g>
<g id="w11-Z3" transform="translate(349.7 1543.3) rotate(50)"><use href="#s"/></g>
<g id="w11-Z4" transform="translate(324.2 1574.2) rotate(75)"><use href="#s"/></g>
<g id="w11-Z5" transform="translate(364.5 1467.2) rotate(-20)"><use href="#s"/></g>
<g id="w11-Z6" transform="translate(387.8 1488.7) rotate(5)"><use href="#s"/></g>
<g id="w11-Z7" transform="translate(392 1528.3) rotate(50)"><use href="#s"/></g>
<g id="w11-23" transform="translate(334.2 1428.8) rotate(70)"><use href="#s"/></g>
<g id="w11-24" transform="translate(365.8 1420) rotate(-60)"><use href="#s"/></g>
<g id="w11-25" transform="translate(400.8 1438) rotate(-25)"><use href="#s"/></g>
<g id="w11-26" transform="translate(422.5 1452.5) rotate(-30)"><use href="#s"/></g>
<g id="w11-27" transform="translate(435.8 1481.2) rotate(20)"><use href="#s"/></g>
<g id="w11-28" transform="translate(425 1519.2) rotate(75)"><use href="#s"/></g>
<g id="w11-29" transform="translate(437 1520.2) rotate(20)"><use href="#s"/></g>
<g id="w11-30" transform="translate(437 1546.7) rotate(50)"><use href="#s"/></g>
<g id="w11-31" transform="translate(398.8 1551.7) rotate(35)"><use href="#s"/></g>
<g id="w11-32" transform="translate(383 1579.5) rotate(75)"><use href="#s"/></g>
<g id="w11-33" transform="translate(345.5 1592) rotate(65)"><use href="#s"/></g>
<g id="w11-34" transform="translate(301.7 1621.7) rotate(-55)"><use href="#s"/></g>
<g id="w11-35" transform="translate(341.3 1622.5) rotate(70)"><use href="#s"/></g>
<g id="w11-Z8" transform="translate(366.2 1602.5) rotate(65)"><use href="#s"/></g>
<g id="w11-36" transform="translate(418.3 1607.8) rotate(30)"><use href="#s"/></g>
<g id="w11-37" transform="translate(368.3 1652.5) rotate(-75)"><use href="#s"/></g>
<g id="w11-Z9" transform="translate(405 1637.2) rotate(70)"><use href="#s"/></g>
<g id="w11-38" transform="translate(418.5 1683.8) rotate(75)"><use href="#s"/></g>
<g id="w11-Z10" transform="translate(454.2 1625.8) rotate(25)"><use href="#s"/></g>
<g id="w11-Z11" transform="translate(450 1657.8) rotate(60)"><use href="#s"/></g>
<g id="w11-39" transform="translate(463 1580) rotate(-60)"><use href="#s"/></g>
<g id="w11-40" transform="translate(489.5 1598) rotate(-25)"><use href="#s"/></g>
<g id="w11-41" transform="translate(498.8 1636.3) rotate(30)"><use href="#s"/></g>
<g id="w11-Z12" transform="translate(500.7 1670.5) rotate(45)"><use href="#s"/></g>
<g id="w11-42" transform="translate(540.8 1669.7) rotate(-10)"><use href="#s"/></g>
<g id="w11-43" transform="translate(537.2 1705.5) rotate(70)"><use href="#s"/></g>
</g>
<g id="labels">
<text x="7.3" y="41.5">(Single)</text>
<text x="24" y="259.3">(1 Wave)</text>
<text x="201" y="259.3">(1 Wave)</text>
<text x="376.7" y="259.3">(1 Wave)</text>
<text x="569" y="259.3">(1 Wave)</text>
<text x="745" y="259.3">(1 Wave)</text>
<text x="920.7" y="259.3">(1 Wave)</text>
<text x="24" y="511.7">(2 Waves)</text>
<text x="312.7" y="511.7">(2 Waves)</text>
<text x="696.7" y="528.3">(3 Waves)</text>
<text x="7.3" y="881.7">(5 Waves)</text>
<text x="488.3" y="891.7">(5 Waves)</text>
<text x="840.7" y="882.7">(5 Waves)</text>
<text x="119.3" y="1301">(5 Waves)</text>
<text x="748.3" y="1322.7">(6 Waves)</text>
<text x="220" y="1718.3">(11 Waves)</text>
</g>
</svg>
